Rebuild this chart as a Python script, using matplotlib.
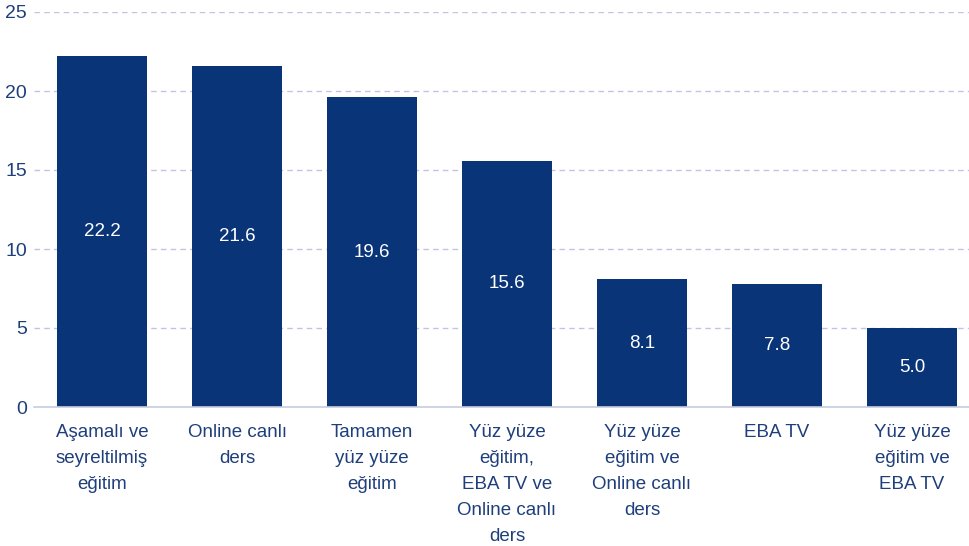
import matplotlib.pyplot as plt

categories = ['Aşamalı ve\nseyreltilmiş\neğitim', 'Online canlı\nders', 'Tamamen\nyüz yüze\neğitim',
              'Yüz yüze\neğitim,\nEBA TV ve\nOnline canlı\nders', 'Yüz yüze\neğitim ve\nOnline canlı\nders',
              'EBA TV', 'Yüz yüze\neğitim ve\nEBA TV']
values = [22.2, 21.6, 19.6, 15.6, 8.1, 7.8, 5.0]
yticks = [0, 5, 10, 15, 20, 25]

bar_color = '#0a3478'
text_color = '#1e3f7c'

plt.rcParams['font.family'] = ['Liberation Sans', 'DejaVu Sans']

fig = plt.figure(figsize=(9.7, 5.46), dpi=100)
ax = fig.add_axes([34 / 970, 1 - 407 / 546, 936 / 970, 395 / 546])

x = range(len(values))
ax.bar(x, values, width=0.667, color=bar_color, zorder=3)
for i, v in enumerate(values):
    ax.text(i, v / 2, f'{v:.1f}', ha='center', va='center', color='white', fontsize=13.5, zorder=4)

ax.set_xlim(-0.504, 6.43)
ax.set_ylim(0, 25)
ax.set_yticks(yticks)
ax.set_xticks(list(x))
ax.set_xticklabels(categories, linespacing=1.7, va='top')
ax.tick_params(axis='x', length=0, pad=12, labelsize=13.5, labelcolor=text_color)
ax.tick_params(axis='y', length=0, pad=5, labelsize=14, labelcolor=text_color)
ax.grid(axis='y', color='#c2c2e6', linestyle=(0, (4, 3)), linewidth=1, zorder=0)
for s in ['top', 'right', 'left']:
    ax.spines[s].set_visible(False)
ax.spines['bottom'].set_color('#c8cce0')
ax.spines['bottom'].set_linewidth(1.2)
ax.spines['bottom'].set_zorder(5)

fig.savefig('out.png', dpi=100)
